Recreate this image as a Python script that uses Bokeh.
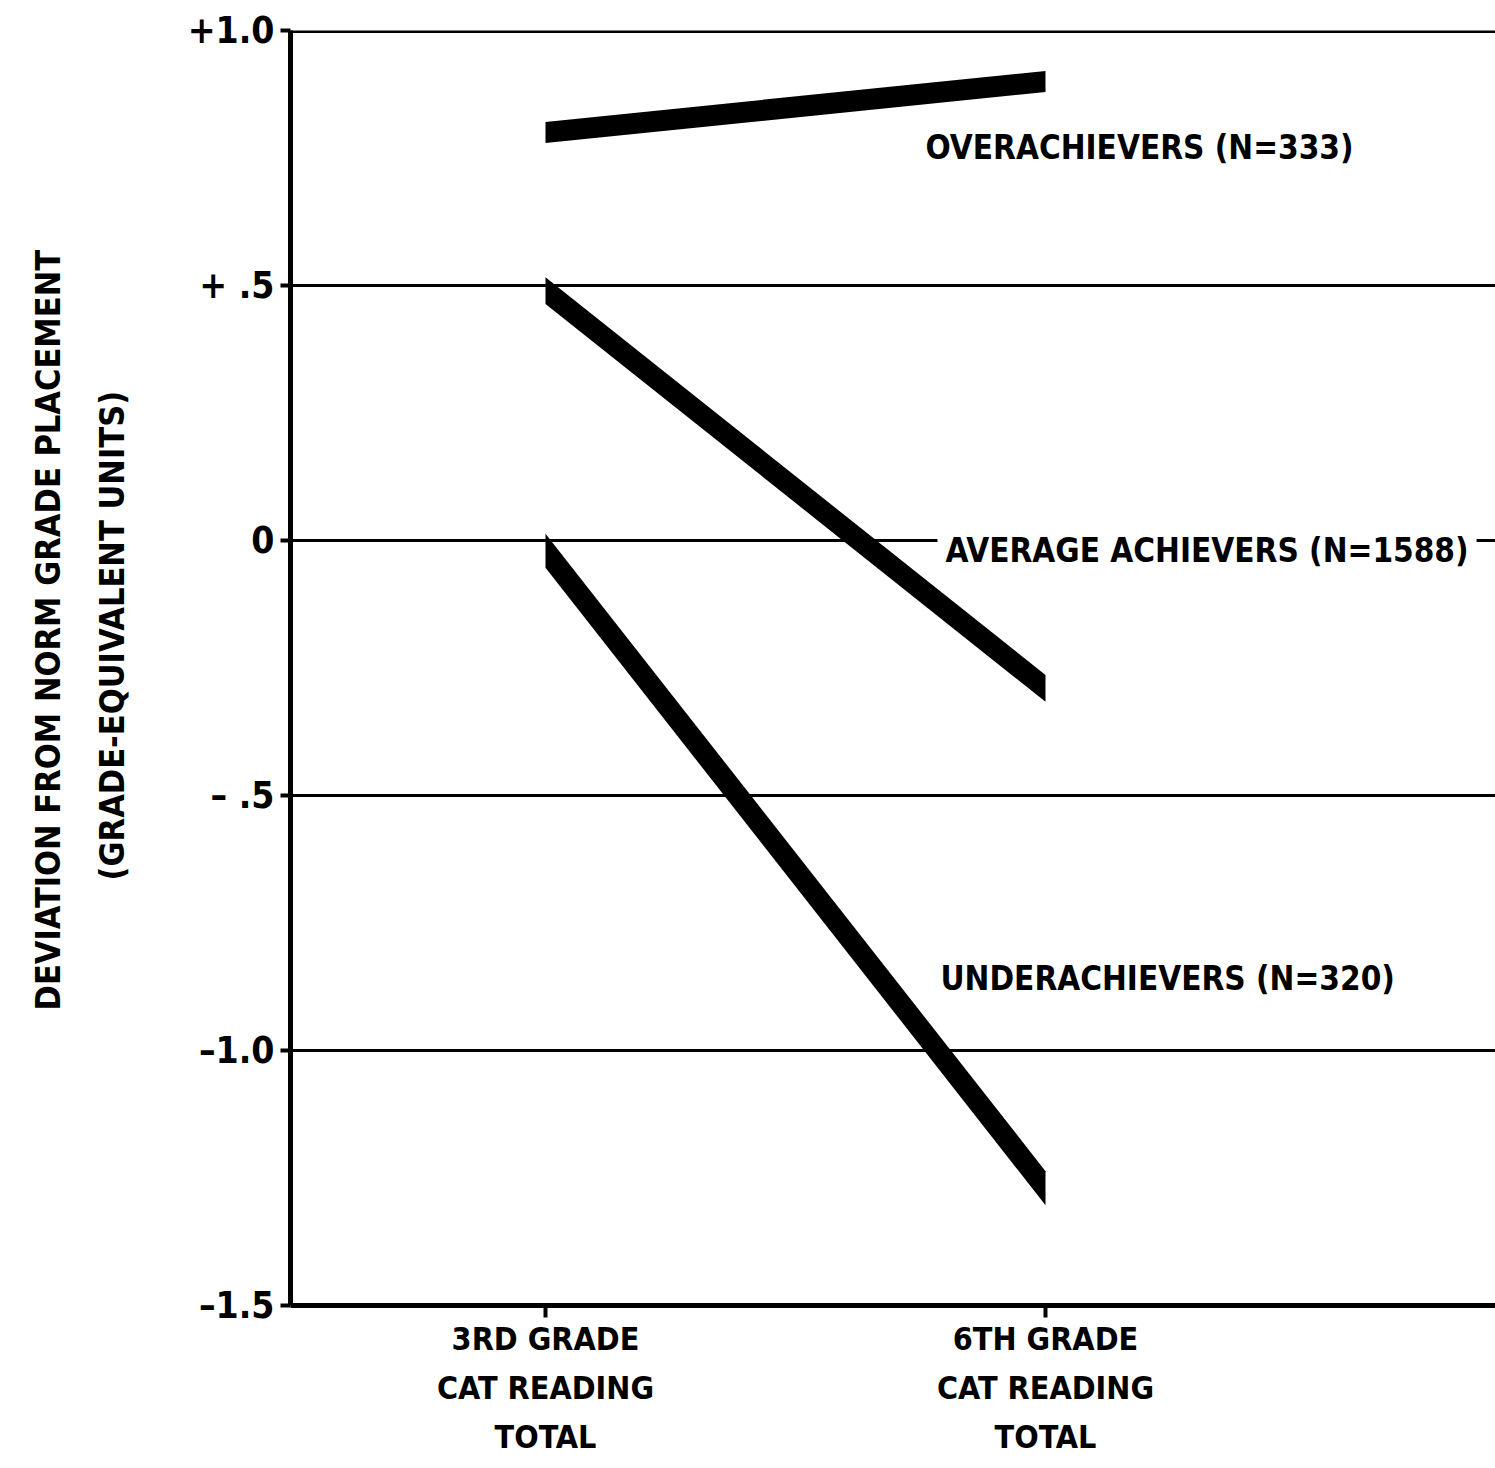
import math
from bokeh.plotting import figure
from bokeh.models import Range1d, FixedTicker, Span, Label, Title
from bokeh.embed import file_html
from bokeh.resources import INLINE

# ---- data ----
stages = ["3RD GRADE\nCAT READING\nTOTAL", "6TH GRADE\nCAT READING\nTOTAL"]
stage_pos = [1, 2]
over = [0.80, 0.90]
average = [0.49, -0.29]
under = [-0.02, -1.27]
series_names = ["OVERACHIEVERS (N=333)", "AVERAGE ACHIEVERS (N=1588)", "UNDERACHIEVERS (N=320)"]
label_x = [1.744, 1.784, 1.774]
label_y = [0.77, -0.02, -0.858]
y_ticks = [-1.5, -1.0, -0.5, 0.0, 0.5, 1.0]
y_tick_labels = ["–1.5", "–1.0", "– .5", "0", "+ .5", "+1.0"]
grid_ticks = [-1.0, -0.5, 0.0, 0.5]
y_title = ["DEVIATION FROM NORM GRADE PLACEMENT", "(GRADE-EQUIVALENT UNITS)"]

FONT = "DejaVu Sans Condensed"
W, H = 1495, 1468
BL, BT, BB = 290, 30, 163
XR = (0.49, 2.9)
YR = (-1.5, 1.0)

p = figure(width=W, height=H, output_backend="svg", toolbar_location=None,
           x_range=Range1d(*XR), y_range=Range1d(*YR),
           min_border_left=BL, min_border_right=0, min_border_top=BT, min_border_bottom=BB)
p.outline_line_color = None
p.background_fill_color = "white"
p.border_fill_color = "white"

# pixel scales (for stroke thickness only)
px_per_x = (W - BL) / (XR[1] - XR[0])
px_per_y = (H - BT - BB) / (YR[1] - YR[0])

# grid
p.xgrid.visible = False
p.ygrid.ticker = FixedTicker(ticks=grid_ticks)
p.ygrid.grid_line_color = "black"
p.ygrid.grid_line_width = 3

# top border line
p.add_layout(Span(location=1.0, dimension="width", line_color="black", line_width=5))

# y axis
ya = p.yaxis[0]
ya.ticker = FixedTicker(ticks=y_ticks)
ya.major_label_overrides = {t: l for t, l in zip(y_ticks, y_tick_labels)}
ya.axis_line_width = 5
ya.major_tick_line_width = 4
ya.major_tick_out = 10
ya.major_tick_in = 0
ya.minor_tick_line_color = None
ya.major_label_text_font = FONT
ya.major_label_text_font_style = "bold"
ya.major_label_text_font_size = "37px"
ya.major_label_text_color = "black"
ya.major_label_standoff = 6

# y title as two rotated side titles (inner line first)
p.add_layout(Title(text=y_title[1], align="left", offset=425, standoff=105,
                   text_font=FONT, text_font_style="bold", text_font_size="34px",
                   text_color="black"), "left")
p.add_layout(Title(text=y_title[0], align="left", offset=295, standoff=-61,
                   text_font=FONT, text_font_style="bold", text_font_size="34px",
                   text_color="black"), "left")

# x axis
xa = p.xaxis[0]
xa.ticker = FixedTicker(ticks=stage_pos)
xa.major_label_overrides = {x: s for x, s in zip(stage_pos, stages)}
xa.axis_line_width = 5
xa.major_tick_line_width = 4
xa.major_tick_out = 12
xa.major_tick_in = 0
xa.minor_tick_line_color = None
xa.major_label_text_font = FONT
xa.major_label_text_font_style = "bold"
xa.major_label_text_font_size = "32px"
xa.major_label_text_color = "black"
xa.major_label_text_line_height = 1.3
xa.major_label_standoff = 2

# thick strokes with vertical-cut ends
STROKE = 21  # px, perpendicular
for ys in (over, average, under):
    slope_px = (ys[1] - ys[0]) * px_per_y / ((stage_pos[1] - stage_pos[0]) * px_per_x)
    half = STROKE / 2 * math.sqrt(1 + slope_px ** 2) / px_per_y
    p.varea(x=stage_pos, y1=[v - half for v in ys], y2=[v + half for v in ys], fill_color="black")

# series labels
for name, lx, ly in zip(series_names, label_x, label_y):
    p.add_layout(Label(x=lx, y=ly, text=name, text_font=FONT, text_font_style="bold",
                       text_font_size="33px", text_baseline="middle", text_align="left",
                       text_color="black", padding=8,
                       background_fill_color="white", background_fill_alpha=1.0))

open("out.html", "w").write(file_html(p, INLINE))
